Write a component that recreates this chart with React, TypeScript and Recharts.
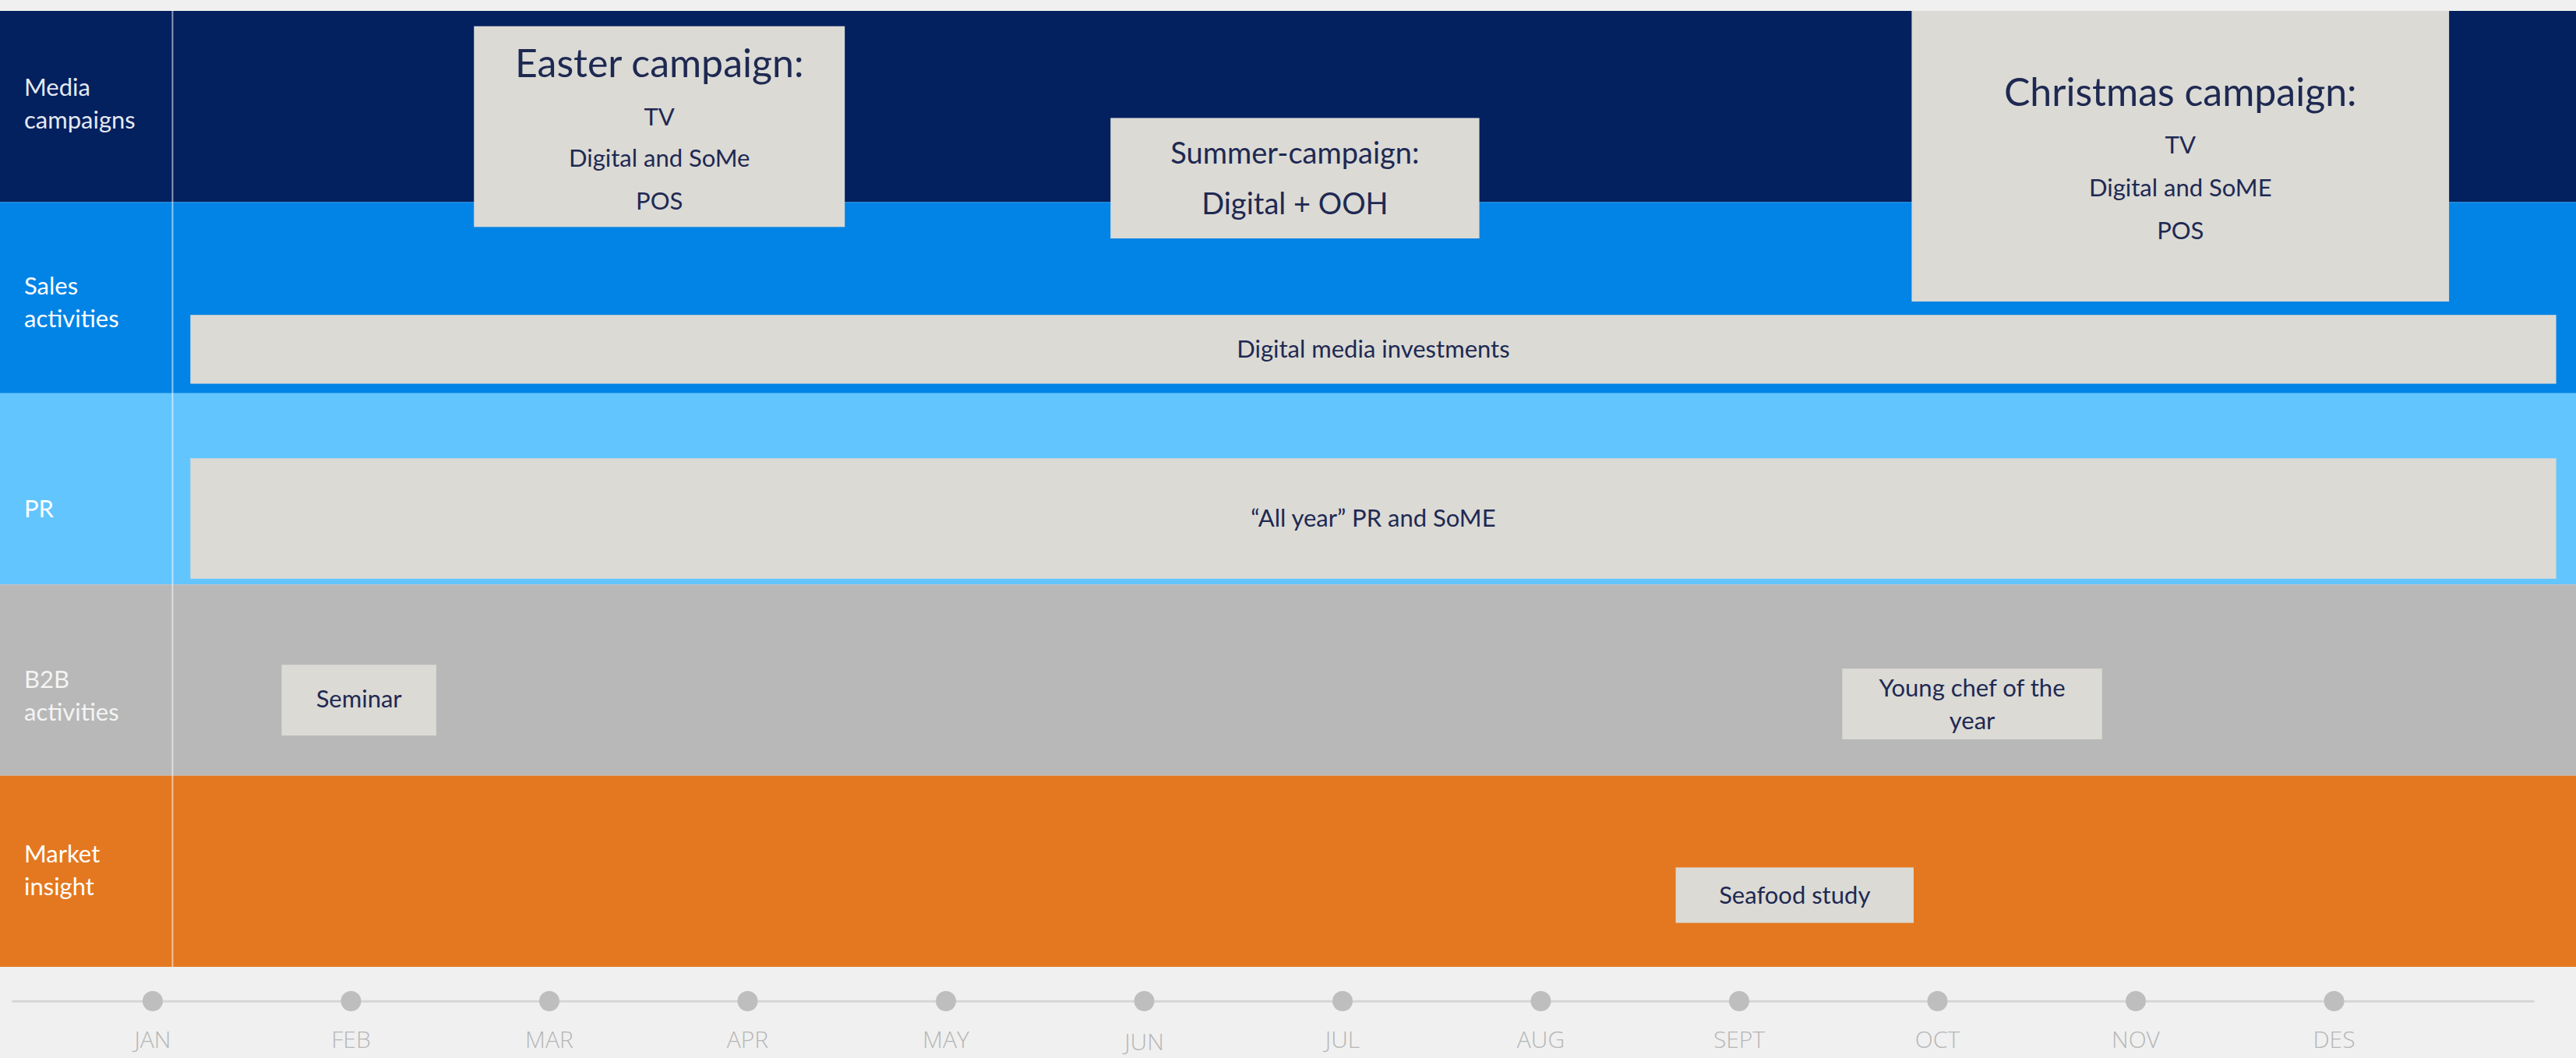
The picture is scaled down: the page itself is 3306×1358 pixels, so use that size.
import React from 'react';
import { ComposedChart, XAxis, YAxis, ReferenceArea, ReferenceLine } from 'recharts';

// ---------- data ----------
const MONTHS = ['JAN', 'FEB', 'MAR', 'APR', 'MAY', 'JUN', 'JUL', 'AUG', 'SEPT', 'OCT', 'NOV', 'DES'];
const MONTH_TICKS = [0, 1, 2, 3, 4, 5, 6, 7, 8, 9, 10, 11];
const X_DOMAIN: [number, number] = [-0.77, 12.22];
const Y_DOMAIN: [number, number] = [0, 5];

const ROW_LABELS = [['Media', 'campaigns'], ['Sales', 'activities'], ['PR'], ['B2B', 'activities'], ['Market', 'insight']];

const ACTIVITY_TEXT = [
  ['Easter campaign:', 'TV', 'Digital and SoMe', 'POS'],
  ['Summer-campaign:', 'Digital + OOH'],
  ['Christmas campaign:', 'TV', 'Digital and SoME', 'POS'],
  ['Digital media investments'],
  ['\u201CAll year\u201D PR and SoME'],
  ['Seminar'],
  ['Young chef of the', 'year'],
  ['Seafood study'],
];
// start / end in months (0 = JAN), top / bottom in rows (0 = top of Media campaigns)
const ACTIVITY_START = [1.62, 4.83, 8.87, 0.19, 0.19, 0.65, 8.52, 7.68];
const ACTIVITY_END = [3.49, 6.69, 11.58, 12.12, 12.12, 1.43, 9.83, 8.88];
const ACTIVITY_TOP = [0.08, 0.56, 0.0, 1.59, 2.34, 3.42, 3.44, 4.48];
const ACTIVITY_BOTTOM = [1.13, 1.19, 1.52, 1.95, 2.97, 3.79, 3.81, 4.77];

const TIMELINE_Y = 5.18;
const TIMELINE_X: [number, number] = [-0.71, 12.01];
const SEPARATOR_X = 0.1;

// ---------- styles ----------
const ROW_COLORS = ['#03205F', '#0284E6', '#63C5FE', '#B8B8B8', '#E47821'];
const ROW_TEXT_COLORS = ['#E4E8F0', '#FFFFFF', '#FFFFFF', '#F4F4F4', '#FFFFFF'];
const ROW_LABEL_DY = [-14, -4, 36, 10, -11];
const BOX_FILL = '#DBDAD5';
const BOX_TEXT = '#1E2952';
const FONT = 'Lato, "Noto Sans", sans-serif';
const BOX_TEXT_STYLE = [
  { sizes: [50, 31, 31, 31], baselines: [65, 127, 180, 235] },
  { sizes: [38, 38], baselines: [59, 124] },
  { sizes: [50, 31, 31, 31], baselines: [122, 183, 238, 293] },
  { sizes: [31], baselines: [55] },
  { sizes: [31], baselines: [88] },
  { sizes: [31], baselines: [55] },
  { sizes: [31, 31], baselines: [36, 78] },
  { sizes: [31], baselines: [47] },
];

const MonthTick = (props: any) => {
  const { x, y, payload } = props;
  const i = Math.round(payload.value);
  return (
    <g>
      <circle cx={x} cy={y + 44} r={13} fill="#BEBEBE" />
      <text
        x={x}
        y={y + (i === 5 ? 107 : 104)}
        textAnchor="middle"
        fontFamily='"Open Sans", sans-serif'
        fontWeight={300}
        fontSize={30}
        fill="#B6B6B6"
      >
        {MONTHS[i]}
      </text>
    </g>
  );
};

const renderBand = (p: any, i: number) => {
  const { x, y, width, height } = p;
  const lines = ROW_LABELS[i];
  return (
    <g>
      <rect x={x} y={y} width={width} height={height} fill={ROW_COLORS[i]} />
      {lines.map((t, k) => (
        <text
          key={k}
          x={x + 31}
          y={y + height / 2 + ROW_LABEL_DY[i] + k * 42}
          textAnchor="start"
          fontFamily={FONT}
          fontSize={31}
          fill={ROW_TEXT_COLORS[i]}
        >
          {t}
        </text>
      ))}
    </g>
  );
};

const renderBox = (p: any, i: number) => {
  const { x, y, width, height } = p;
  const st = BOX_TEXT_STYLE[i];
  return (
    <g>
      <rect x={x} y={y} width={width} height={height} fill={BOX_FILL} />
      {ACTIVITY_TEXT[i].map((t, k) => (
        <text
          key={k}
          x={x + width / 2}
          y={y + st.baselines[k]}
          textAnchor="middle"
          fontFamily={FONT}
          fontSize={st.sizes[k]}
          fill={BOX_TEXT}
        >
          {t}
        </text>
      ))}
    </g>
  );
};

const chartData = MONTH_TICKS.map((m) => ({ m }));

export default function App() {
  return (
    <div
      style={{
        position: 'absolute',
        left: 0,
        top: 0,
        width: 3306,
        height: 1358,
        background: '#F0F0F0',
        overflow: 'hidden',
      }}
    >
      <ComposedChart
        width={3306}
        height={1358}
        data={chartData}
        margin={{ top: 14, right: 0, bottom: 0, left: 0 }}
      >
        <XAxis
          type="number"
          dataKey="m"
          domain={X_DOMAIN}
          allowDataOverflow
          ticks={MONTH_TICKS}
          interval={0}
          tick={<MonthTick />}
          axisLine={false}
          tickLine={false}
          tickSize={0}
          tickMargin={0}
          height={117}
        />
        <YAxis type="number" domain={Y_DOMAIN} reversed allowDataOverflow hide width={0} />
        {ROW_COLORS.map((c, i) => (
          <ReferenceArea
            key={'row' + i}
            x1={X_DOMAIN[0]}
            x2={X_DOMAIN[1]}
            y1={i}
            y2={i + 1}
            fill={c}
            fillOpacity={1}
            stroke="none"
            ifOverflow="visible"
            shape={(p: any) => renderBand(p, i)}
          />
        ))}
        {ACTIVITY_TEXT.map((_, i) => (
          <ReferenceArea
            key={'act' + i}
            x1={ACTIVITY_START[i]}
            x2={ACTIVITY_END[i]}
            y1={ACTIVITY_TOP[i]}
            y2={ACTIVITY_BOTTOM[i]}
            fill={BOX_FILL}
            fillOpacity={1}
            ifOverflow="visible"
            shape={(p: any) => renderBox(p, i)}
          />
        ))}
        <ReferenceLine
          x={SEPARATOR_X}
          stroke="#FFFFFF"
          strokeOpacity={0.55}
          strokeWidth={2}
          ifOverflow="visible"
        />
        <ReferenceLine
          segment={[
            { x: TIMELINE_X[0], y: TIMELINE_Y },
            { x: TIMELINE_X[1], y: TIMELINE_Y },
          ]}
          stroke="#D6D6D6"
          strokeWidth={3}
          ifOverflow="visible"
        />
      </ComposedChart>
    </div>
  );
}
